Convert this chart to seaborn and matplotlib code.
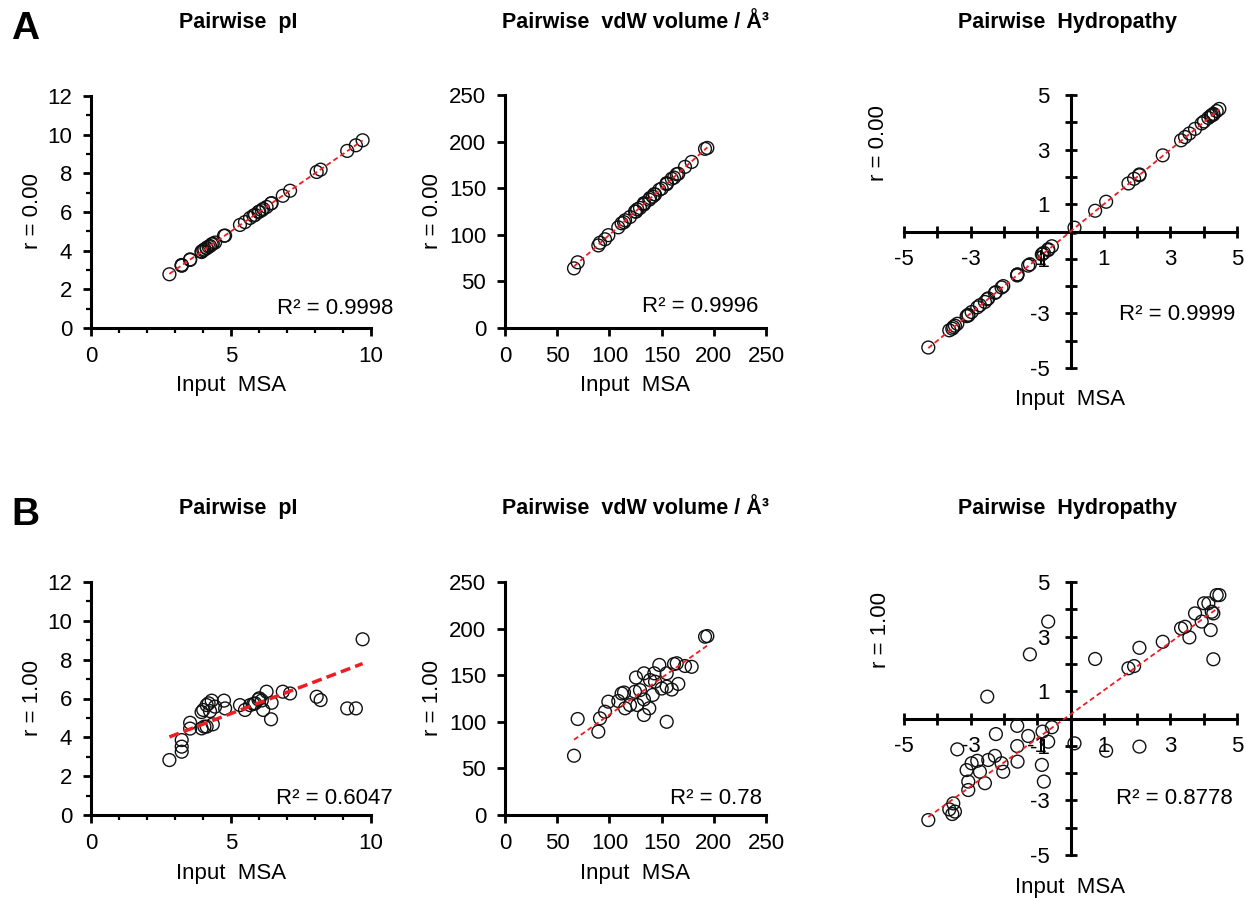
import matplotlib
matplotlib.use("Agg")
import matplotlib.pyplot as plt
from matplotlib.ticker import MultipleLocator, FixedLocator
import numpy as np
import seaborn as sns

# ---------------- data ----------------
# Pairwise pI: input MSA value vs. value after shuffling at r = 0.00 and r = 1.00
pi_msa = [2.80, 3.24, 3.24, 3.24, 3.54, 3.54, 3.95, 3.95, 4.01, 4.05, 4.13, 4.13, 4.20,
          4.25, 4.31, 4.35, 4.43, 4.75, 4.79, 5.32, 5.50, 5.68, 5.80, 5.86, 5.98, 6.01,
          6.10, 6.15, 6.27, 6.43, 6.45, 6.85, 7.11, 8.06, 8.20, 9.15, 9.46, 9.70]
pi_r0 = [2.78, 3.22, 3.26, 3.25, 3.55, 3.52, 3.96, 3.93, 4.02, 4.06, 4.12, 4.15, 4.21,
         4.24, 4.33, 4.36, 4.42, 4.77, 4.78, 5.33, 5.48, 5.69, 5.81, 5.85, 6.00, 6.02,
         6.09, 6.16, 6.26, 6.44, 6.46, 6.84, 7.10, 8.07, 8.19, 9.16, 9.45, 9.71]
pi_r1 = [2.83, 3.26, 3.52, 3.86, 4.45, 4.75, 4.46, 5.30, 5.41, 4.55, 4.55, 5.66, 5.75,
         5.35, 5.89, 4.67, 5.58, 5.89, 5.49, 5.66, 5.41, 5.66, 5.72, 5.75, 5.95, 6.01,
         5.90, 5.41, 6.35, 4.93, 5.78, 6.35, 6.26, 6.09, 5.92, 5.49, 5.49, 9.05]

# Pairwise van der Waals volume (Å³)
vol_msa = [66.1, 69.6, 89.4, 91.0, 95.8, 99.0, 108.5, 111.7, 114.0, 115.0, 119.7, 124.5,
           125.5, 126.7, 129.3, 133.1, 133.1, 133.1, 138.2, 138.9, 141.5, 143.0, 143.7,
           147.8, 150.1, 154.9, 154.9, 154.9, 159.7, 161.9, 164.5, 166.0, 172.4, 178.8,
           191.6, 193.8]
vol_r0 = [64.0, 70.5, 88.6, 91.5, 95.2, 99.6, 108.0, 112.3, 113.5, 115.6, 119.1, 125.0,
          124.8, 127.3, 128.8, 133.6, 132.5, 133.9, 137.7, 139.5, 141.0, 143.6, 143.2,
          148.3, 149.6, 155.4, 154.3, 155.0, 160.2, 161.4, 165.0, 165.5, 172.9, 178.2,
          192.2, 193.2]
vol_r1 = [63.6, 103.0, 89.4, 103.7, 110.8, 121.6, 122.3, 130.4, 131.4, 114.5, 118.0, 132.3,
          147.5, 118.0, 134.0, 152.0, 124.0, 107.3, 114.5, 144.8, 128.8, 152.0, 143.0,
          161.0, 135.7, 152.0, 137.7, 100.0, 134.6, 162.0, 162.8, 140.6, 159.9, 159.0,
          191.3, 192.0]

# Pairwise hydropathy
hyd_msa = [-4.27, -3.64, -3.55, -3.52, -3.47, -3.40, -3.12, -3.07, -3.07, -2.97, -2.80,
           -2.72, -2.57, -2.50, -2.47, -2.27, -2.24, -2.07, -2.02, -1.60, -1.60, -1.59,
           -1.27, -1.22, -0.86, -0.84, -0.80, -0.67, -0.67, -0.56, 0.12, 0.74, 1.07, 1.74,
           1.91, 2.07, 2.07, 2.77, 3.32, 3.44, 3.57, 3.74, 3.94, 4.01, 4.14, 4.21, 4.24,
           4.29, 4.29, 4.39, 4.47]
hyd_r0 = [-4.25, -3.62, -3.56, -3.50, -3.45, -3.38, -3.10, -3.05, -3.08, -2.95, -2.78,
          -2.70, -2.58, -2.48, -2.45, -2.25, -2.22, -2.05, -2.00, -1.58, -1.61, -1.57,
          -1.25, -1.20, -0.84, -0.82, -0.78, -0.65, -0.68, -0.54, 0.14, 0.76, 1.09, 1.76,
          1.93, 2.09, 2.06, 2.79, 3.34, 3.46, 3.59, 3.76, 3.96, 4.03, 4.16, 4.23, 4.26,
          4.31, 4.28, 4.41, 4.49]
hyd_r1 = [-3.72, -3.33, -3.50, -3.11, -3.41, -1.13, -1.89, -2.31, -2.62, -1.64, -1.55,
          -1.95, -2.37, 0.80, -1.52, -1.37, -0.57, -1.64, -1.95, -0.27, -1.01, -1.58,
          -0.64, 2.35, -1.70, -0.48, -2.31, -0.85, 3.55, -0.32, -0.91, 2.18, -1.18, 1.84,
          1.92, 2.59, -1.03, 2.81, 3.30, 3.36, 2.97, 3.85, 3.55, 4.22, 4.22, 3.24, 3.91,
          3.85, 2.17, 4.52, 4.52]

panel_letters = ["A", "B"]
row_ylabels = ["r = 0.00", "r = 1.00"]
col_titles = ["Pairwise  pI", "Pairwise  vdW volume / Å³", "Pairwise  Hydropathy"]
r2_labels = [["R² = 0.9998", "R² = 0.9996", "R² = 0.9999"],
             ["R² = 0.6047", "R² = 0.78", "R² = 0.8778"]]
# linear trendline coefficients (slope, intercept)
trend_slope = [[1.0, 1.0, 1.0], [0.547, 0.791, 0.88]]
trend_icpt = [[0.0, 0.0, 0.0], [2.49, 28.5, 0.15]]

series = [[(pi_msa, pi_r0), (vol_msa, vol_r0), (hyd_msa, hyd_r0)],
          [(pi_msa, pi_r1), (vol_msa, vol_r1), (hyd_msa, hyd_r1)]]

# ---------------- layout (pixel boxes: left, top, right, bottom) ----------------
W, H = 1246, 898
boxes = [[(91, 96, 371, 328), (505, 95, 766, 328), (904, 95, 1237, 368)],
         [(91, 582, 371, 815), (505, 582, 766, 815), (904, 582, 1237, 855)]]
title_pos = [[(238, 31), (635, 31), (1067, 31)], [(238, 517), (635, 517), (1067, 517)]]
xlabel_pos = [[(231, 385), (635, 385), (1070, 400)], [(231, 873), (635, 873), (1070, 887)]]
ylabel_pos = [[(33, 211), (433, 211), (878, 143)], [(33, 698), (433, 698), (880, 630)]]
r2_pos = [[(393, 308), (758, 307), (1235, 315)], [(393, 798), (762, 799), (1233, 799)]]
letter_pos = [(25, 29), (25, 515)]

sns.set_theme(style="white")
plt.rcParams["font.family"] = ["Liberation Sans", "DejaVu Sans"]
plt.rcParams["axes.unicode_minus"] = False

fig = plt.figure(figsize=(W / 100, H / 100), dpi=100)
fig.patch.set_facecolor("white")

RED = "#ee1d23"
FS = 16


def to_axes(box, px, py):
    l, t, r, b = box
    return (px - l) / (r - l), (b - py) / (b - t)


for row in range(2):
    for col in range(3):
        box = boxes[row][col]
        l, t, r, b = box
        ax = fig.add_axes([l / W, 1 - b / H, (r - l) / W, (b - t) / H])
        ax.set_facecolor("none")
        xs, ys = series[row][col]

        sns.scatterplot(x=xs, y=ys, ax=ax, s=85, facecolor="none",
                        edgecolor="#111111", linewidth=1.0, zorder=3)

        # trendline over the range of the data
        xfit = np.array([min(xs), max(xs)])
        yfit = trend_slope[row][col] * xfit + trend_icpt[row][col]
        if row == 1 and col == 0:
            ax.plot(xfit, yfit, color=RED, lw=2.5, dashes=(2.9, 1.5), zorder=4)
        else:
            ax.plot(xfit, yfit, color=RED, lw=1.3, dashes=(2.8, 1.8), zorder=4)

        for s in ax.spines.values():
            s.set_linewidth(2.2)
            s.set_color("black")
        ax.spines["top"].set_visible(False)
        ax.spines["right"].set_visible(False)

        if col == 0:
            ax.set_xlim(0, 10)
            ax.set_ylim(0, 12)
            ax.xaxis.set_major_locator(FixedLocator([0, 5, 10]))
            ax.xaxis.set_minor_locator(MultipleLocator(1))
            ax.yaxis.set_major_locator(MultipleLocator(2))
            ax.yaxis.set_minor_locator(MultipleLocator(1))
        elif col == 1:
            ax.set_xlim(0, 250)
            ax.set_ylim(0, 250)
            ax.xaxis.set_major_locator(MultipleLocator(50))
            ax.yaxis.set_major_locator(MultipleLocator(50))
        if col < 2:
            ax.tick_params(which="major", direction="out", length=6, width=2,
                           labelsize=FS, color="black", labelcolor="black")
            ax.tick_params(axis="x", which="major", pad=7)
            ax.tick_params(axis="y", which="major", pad=7.5)
            ax.tick_params(which="minor", direction="out", length=3.5, width=1.6,
                           color="black")
            ax.tick_params(bottom=True, left=True, which="both")
        else:
            ax.set_xlim(-5, 5)
            ax.set_ylim(-5, 5)
            ax.spines["left"].set_position(("data", 0))
            ax.spines["bottom"].set_position(("data", 0))
            ax.xaxis.set_major_locator(FixedLocator([-5, -3, -1, 1, 3, 5]))
            ax.yaxis.set_major_locator(FixedLocator([-5, -3, -1, 1, 3, 5]))
            ax.xaxis.set_minor_locator(FixedLocator([-4, -2, 0, 2, 4]))
            ax.yaxis.set_minor_locator(FixedLocator([-4, -2, 0, 2, 4]))
            ax.tick_params(which="both", direction="inout", length=8, width=2,
                           color="black", labelsize=FS, labelcolor="black")
            ax.tick_params(bottom=True, left=True, which="both")
            ax.tick_params(axis="x", which="major", pad=8.5)
            ax.tick_params(axis="y", which="major", pad=11)

        ax.grid(False)

        # title
        tx, ty = to_axes(box, *title_pos[row][col])
        ax.set_title(col_titles[row == 1 and col or col], x=tx, y=ty, va="center",
                     ha="center", fontsize=15.5, fontweight="bold", color="black")

        # axis labels
        ax.set_xlabel("Input  MSA", fontsize=FS, color="black")
        ax.xaxis.label.set_verticalalignment("center")
        ax.xaxis.set_label_coords(*to_axes(box, *xlabel_pos[row][col]))
        ax.set_ylabel(row_ylabels[row], fontsize=FS, color="black")
        ax.yaxis.label.set_verticalalignment("center")
        ax.yaxis.set_label_coords(*to_axes(box, *ylabel_pos[row][col]))

        # goodness-of-fit label
        rx, ry = to_axes(box, *r2_pos[row][col])
        ax.text(rx, ry, r2_labels[row][col], transform=ax.transAxes, ha="right",
                va="center", fontsize=FS, color="black")

for letter, (px, py) in zip(panel_letters, letter_pos):
    fig.text(px / W, 1 - py / H, letter, fontsize=28, fontweight="bold",
             ha="center", va="center", color="black")

fig.savefig("out.png", dpi=100, facecolor="white")
